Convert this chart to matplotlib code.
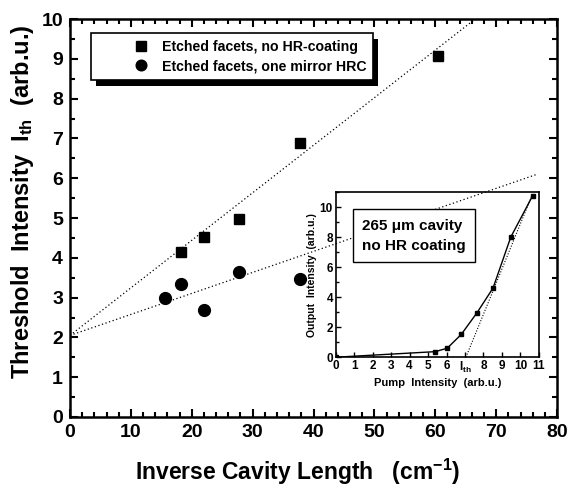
import numpy as np
import matplotlib.pyplot as plt
from matplotlib.ticker import MultipleLocator
from matplotlib.patches import Rectangle
from matplotlib.transforms import IdentityTransform

plt.rcParams['font.family'] = ['Liberation Sans', 'DejaVu Sans']
plt.rcParams['font.weight'] = 'bold'
plt.rcParams['mathtext.default'] = 'regular'

# main data
sq_x = [18.2, 22.0, 27.7, 37.8, 60.4]
sq_y = [4.15, 4.52, 4.98, 6.88, 9.07]
ci_x = [15.6, 18.2, 22.0, 27.7, 37.8]
ci_y = [3.0, 3.34, 2.69, 3.64, 3.48]

# linear fits (intercept, slope, end x)
fit_sq = (2.05, 0.1195, 66.6)
fit_ci = (2.05, 0.0528, 76.7)

# inset data
pump = [0.0, 5.39, 6.04, 6.8, 7.65, 8.52, 9.48, 10.67]
output = [0.0, 0.37, 0.6, 1.52, 2.96, 4.61, 8.0, 10.77]
th_line_x = [7.05, 10.67]
th_line_y = [0.0, 10.9]

fig = plt.figure(figsize=(5.69, 4.90), dpi=100)
ax = fig.add_axes([0.123, 0.149, 0.856, 0.812])

for b, m, xe in [fit_sq, fit_ci]:
    xx = np.array([0, xe])
    ax.plot(xx, b + m * xx, color='black', lw=0.9, ls=(0, (1, 2)))

ax.plot(sq_x, sq_y, 's', color='black', ms=7.5, label='Etched facets, no HR-coating')
ax.plot(ci_x, ci_y, 'o', color='black', ms=8.5, label='Etched facets, one mirror HRC')

ax.set_xlim(0, 80)
ax.set_ylim(0, 10)
ax.xaxis.set_major_locator(MultipleLocator(10))
ax.xaxis.set_minor_locator(MultipleLocator(2))
ax.yaxis.set_major_locator(MultipleLocator(1))
ax.yaxis.set_minor_locator(MultipleLocator(0.5))
ax.tick_params(which='both', direction='in', top=True, right=True, width=1.5)
ax.tick_params(which='major', length=6, labelsize=14, pad=5)
ax.tick_params(which='minor', length=3.5)
for s in ax.spines.values():
    s.set_linewidth(1.8)
for lab in ax.get_xticklabels() + ax.get_yticklabels():
    lab.set_fontweight('bold')

ax.set_xlabel('Inverse Cavity Length   (cm$^{-1}$)', fontsize=16.5, fontweight='bold')
ax.set_ylabel('Threshold  Intensity  I$_{th}$  (arb.u.)', fontsize=17, fontweight='bold')
ax.xaxis.set_label_coords(0.468, -0.1)
ax.yaxis.set_label_coords(-0.07, 0.54)

leg = ax.legend(loc='upper left', bbox_to_anchor=(0.043, 0.965), borderaxespad=0, fancybox=False,
                edgecolor='black', fontsize=10.2, handlelength=6, handletextpad=-1.5,
                borderpad=0.5, labelspacing=0.35, markerscale=0.9, framealpha=1)
leg.get_frame().set_linewidth(1.2)
for t in leg.get_texts():
    t.set_fontweight('bold')

# inset
ins = fig.add_axes([0.590, 0.271, 0.357, 0.337])
ins.patch.set_alpha(0)
ins.plot(th_line_x, th_line_y, color='black', lw=0.8, ls=(0, (1, 1.5)))
ins.plot(pump, output, '-s', color='black', lw=1.0, ms=3.5)
ins.set_xlim(0, 11)
ins.set_ylim(0, 11)
ins.set_xticks(range(12))
ins.set_xticklabels(['0', '1', '2', '3', '4', '5', '6', 'I$_{th}$', '8', '9', '10', '11'])
ins.yaxis.set_major_locator(MultipleLocator(2))
ins.yaxis.set_minor_locator(MultipleLocator(1))
ins.tick_params(which='both', direction='in', width=1.0, labelsize=8.5, pad=2)
ins.tick_params(which='major', length=3.5)
ins.tick_params(which='minor', length=2)
for s in ins.spines.values():
    s.set_linewidth(1.2)
for lab in ins.get_xticklabels() + ins.get_yticklabels():
    lab.set_fontweight('bold')
ins.set_xlabel('Pump  Intensity  (arb.u.)', fontsize=8, fontweight='bold', labelpad=2)
ins.set_ylabel('Output  Intensity  (arb.u.)', fontsize=7.5, fontweight='bold', labelpad=2)
ins.text(0.13, 0.735, '265 \u03bcm cavity\nno HR coating', transform=ins.transAxes,
         fontsize=11, fontweight='bold', va='center', ha='left', linespacing=1.6,
         bbox=dict(boxstyle='square,pad=0.6', facecolor='white', edgecolor='black', lw=1.0))

# legend drop shadow
fig.canvas.draw()
bb = leg.get_window_extent()
ax.add_patch(Rectangle((bb.x0 + 5, bb.y0 - 6), bb.width, bb.height, transform=IdentityTransform(),
                       facecolor='black', edgecolor='none', zorder=4.9, clip_on=False))

fig.savefig('out.png', dpi=100)
